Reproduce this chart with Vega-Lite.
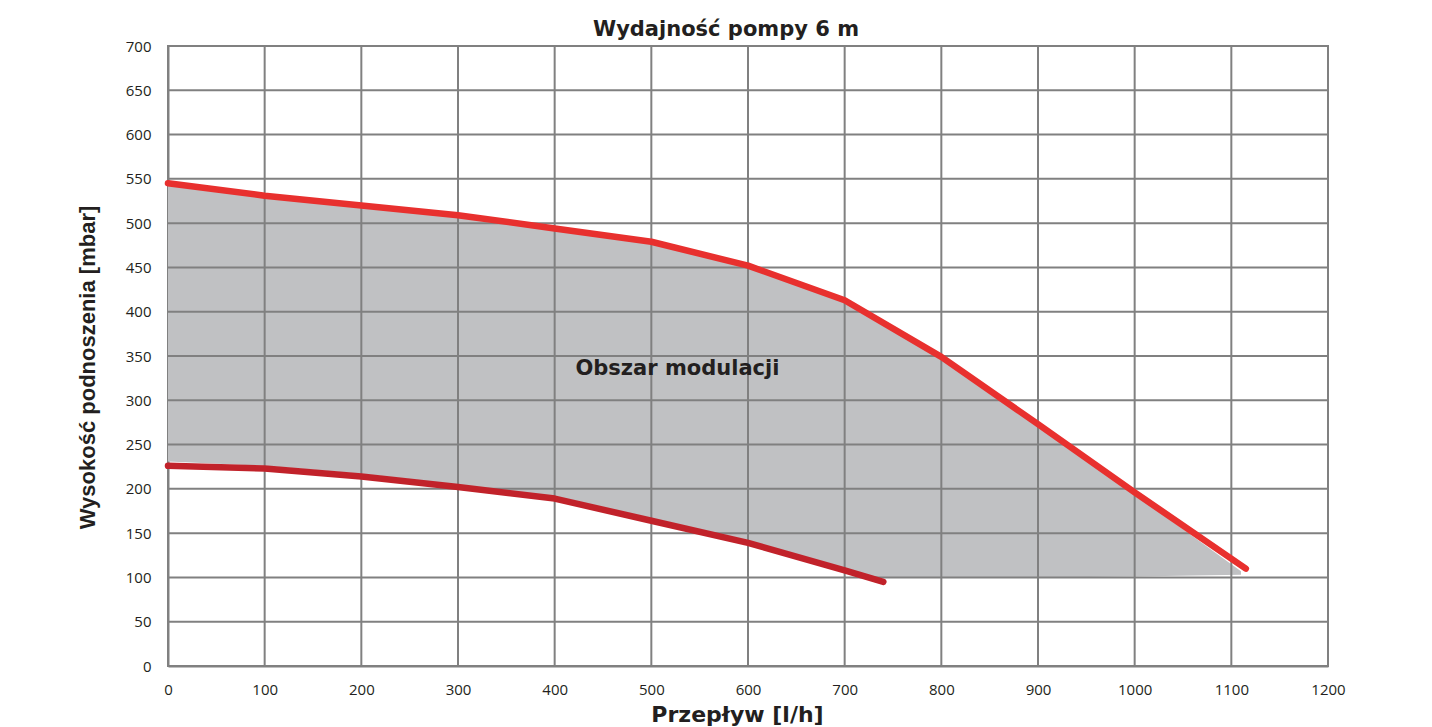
{
  "$schema": "https://vega.github.io/schema/vega-lite/v6.json",
  "autosize": {"type": "none"},
  "width": 1160,
  "height": 620,
  "padding": {"left": 168, "top": 46, "right": 104, "bottom": 61},
  "background": "white",
  "title": {
    "text": "Wydajność pompy 6 m",
    "font": "DejaVu Sans",
    "fontSize": 21,
    "fontWeight": "bold",
    "color": "#231f20",
    "anchor": "middle",
    "offset": -1,
    "dx": -22
  },
  "config": {
    "view": {"stroke": "#808080", "strokeWidth": 2},
    "axis": {
      "grid": false,
      "ticks": false,
      "domainColor": "#808080",
      "domainWidth": 2,
      "labelFont": "Open Sans",
      "labelFontSize": 15,
      "labelColor": "#231f20",
      "labelFlush": false,
      "labelOverlap": false,
      "titleFontWeight": "bold",
      "titleColor": "#231f20"
    }
  },
  "datasets": {
    "area": [
      {"q": 0, "upper": 543, "lower": 231},
      {"q": 100, "upper": 529, "lower": 226},
      {"q": 200, "upper": 518, "lower": 217},
      {"q": 300, "upper": 507, "lower": 205},
      {"q": 400, "upper": 492, "lower": 192},
      {"q": 500, "upper": 477, "lower": 167},
      {"q": 600, "upper": 450, "lower": 142},
      {"q": 700, "upper": 411, "lower": 111},
      {"q": 730, "upper": 393, "lower": 100},
      {"q": 800, "upper": 347, "lower": 100},
      {"q": 900, "upper": 271, "lower": 100},
      {"q": 1000, "upper": 194, "lower": 101},
      {"q": 1110, "upper": 107, "lower": 103}
    ],
    "gx": [
      {"v": 100}, {"v": 200}, {"v": 300}, {"v": 400}, {"v": 500}, {"v": 600},
      {"v": 700}, {"v": 800}, {"v": 900}, {"v": 1000}, {"v": 1100}
    ],
    "gy": [
      {"v": 50}, {"v": 100}, {"v": 150}, {"v": 200}, {"v": 250}, {"v": 300},
      {"v": 350}, {"v": 400}, {"v": 450}, {"v": 500}, {"v": 550}, {"v": 600},
      {"v": 650}
    ],
    "lines": [
      {"series": "max", "q": 0, "h": 545},
      {"series": "max", "q": 100, "h": 531},
      {"series": "max", "q": 200, "h": 520},
      {"series": "max", "q": 300, "h": 509},
      {"series": "max", "q": 400, "h": 494},
      {"series": "max", "q": 500, "h": 479},
      {"series": "max", "q": 600, "h": 452},
      {"series": "max", "q": 700, "h": 413},
      {"series": "max", "q": 800, "h": 349},
      {"series": "max", "q": 900, "h": 273},
      {"series": "max", "q": 1000, "h": 196},
      {"series": "max", "q": 1115, "h": 110},
      {"series": "min", "q": 0, "h": 226},
      {"series": "min", "q": 100, "h": 223},
      {"series": "min", "q": 200, "h": 214},
      {"series": "min", "q": 300, "h": 202},
      {"series": "min", "q": 400, "h": 189},
      {"series": "min", "q": 500, "h": 164},
      {"series": "min", "q": 600, "h": 139},
      {"series": "min", "q": 700, "h": 108},
      {"series": "min", "q": 740, "h": 95}
    ],
    "label": [{"q": 527, "h": 335, "text": "Obszar modulacji"}]
  },
  "layer": [
    {
      "data": {"name": "area"},
      "mark": {"type": "area", "color": "#c0c1c3"},
      "encoding": {
        "x": {
          "field": "q", "type": "quantitative",
          "scale": {"domain": [0, 1200], "nice": false},
          "axis": {
            "values": [0,100,200,300,400,500,600,700,800,900,1000,1100,1200],
            "format": "d",
            "labelPadding": 16,
            "title": "Przepływ [l/h]",
            "titleFont": "DejaVu Sans",
            "titleFontSize": 22,
            "titlePadding": 7,
            "titleX": 569
          }
        },
        "y": {
          "field": "upper", "type": "quantitative",
          "scale": {"domain": [0, 700], "nice": false},
          "axis": {
            "values": [0,50,100,150,200,250,300,350,400,450,500,550,600,650,700],
            "labelPadding": 17,
            "title": "Wysokość podnoszenia [mbar]",
            "titleFont": "Liberation Sans",
            "titleFontSize": 22,
            "titlePadding": 26,
            "titleY": 321
          }
        },
        "y2": {"field": "lower"}
      }
    },
    {
      "data": {"name": "gx"},
      "mark": {"type": "rule", "color": "#808080", "strokeWidth": 2},
      "encoding": {"x": {"field": "v", "type": "quantitative"}}
    },
    {
      "data": {"name": "gy"},
      "mark": {"type": "rule", "color": "#808080", "strokeWidth": 2},
      "encoding": {"y": {"field": "v", "type": "quantitative"}}
    },
    {
      "data": {"name": "label"},
      "mark": {"type": "text", "font": "DejaVu Sans", "fontSize": 21, "fontWeight": "bold", "color": "#231f20"},
      "encoding": {
        "x": {"field": "q", "type": "quantitative"},
        "y": {"field": "h", "type": "quantitative"},
        "text": {"field": "text"}
      }
    },
    {
      "data": {"name": "lines"},
      "mark": {"type": "line", "strokeWidth": 6.5, "strokeCap": "round", "strokeJoin": "round"},
      "encoding": {
        "x": {"field": "q", "type": "quantitative"},
        "y": {"field": "h", "type": "quantitative"},
        "color": {
          "field": "series", "type": "nominal",
          "scale": {"domain": ["max", "min"], "range": ["#e8302e", "#c1222a"]},
          "legend": null
        }
      }
    }
  ]
}
